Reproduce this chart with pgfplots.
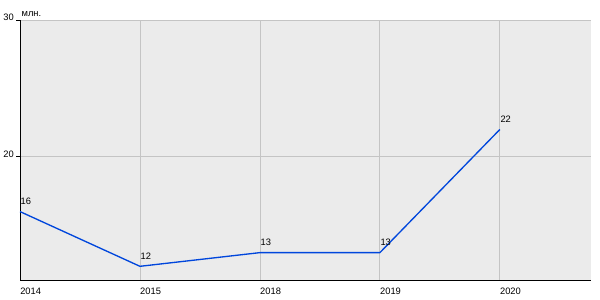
\documentclass[border=0pt]{standalone}
\usepackage{pgfplots}
\pgfplotsset{compat=1.18}
\usepackage{fontspec}
\setmainfont{Liberation Sans}
\definecolor{bg}{HTML}{EBEBEB}
\definecolor{grd}{HTML}{C4C4C4}
\definecolor{ln}{HTML}{0046DC}
\begin{document}
\begin{tikzpicture}[x=1pt,y=1pt]
\path[use as bounding box] (-15,-15) rectangle (435,210);
\begin{axis}[at={(0,0)}, anchor=south west, scale only axis,
  width=428.25pt, height=195pt,
  xmin=0, xmax=4.76, ymin=11, ymax=30,
  axis background/.style={fill=bg},
  axis x line*=bottom, axis y line*=left,
  axis line style={black, line width=0.65pt, -},
  xtick={0,1,2,3,4}, xticklabels={2014,2015,2018,2019,2020},
  ytick={20,30},
  grid=major, major grid style={grd, line width=0.6pt},
  tick align=outside, major tick length=3pt,
  ytick style={black, line width=0.65pt},
  xtick style={draw=none},
  /pgf/number format/assume math mode=true,
  x tick label style={anchor=north west, inner sep=0pt, yshift=-3pt, font=\fontsize{7}{8}\selectfont},
  y tick label style={anchor=east, inner sep=0pt, xshift=-1.5pt, yshift=2pt, font=\fontsize{7}{8}\selectfont},
  clip=false,
  nodes near coords,
  nodes near coords style={anchor=south west, inner sep=0pt, yshift=4.5pt, font=\fontsize{7}{8}\selectfont, black},
]
\addplot[ln, line width=1pt, mark=none] coordinates {(0,16) (1,12) (2,13) (3,13) (4,22)};
\node[anchor=south west, inner sep=0pt, font=\fontsize{7}{8}\selectfont] at (rel axis cs:0,1) [xshift=1pt, yshift=2.5pt] {млн.};
\end{axis}
\end{tikzpicture}
\end{document}
